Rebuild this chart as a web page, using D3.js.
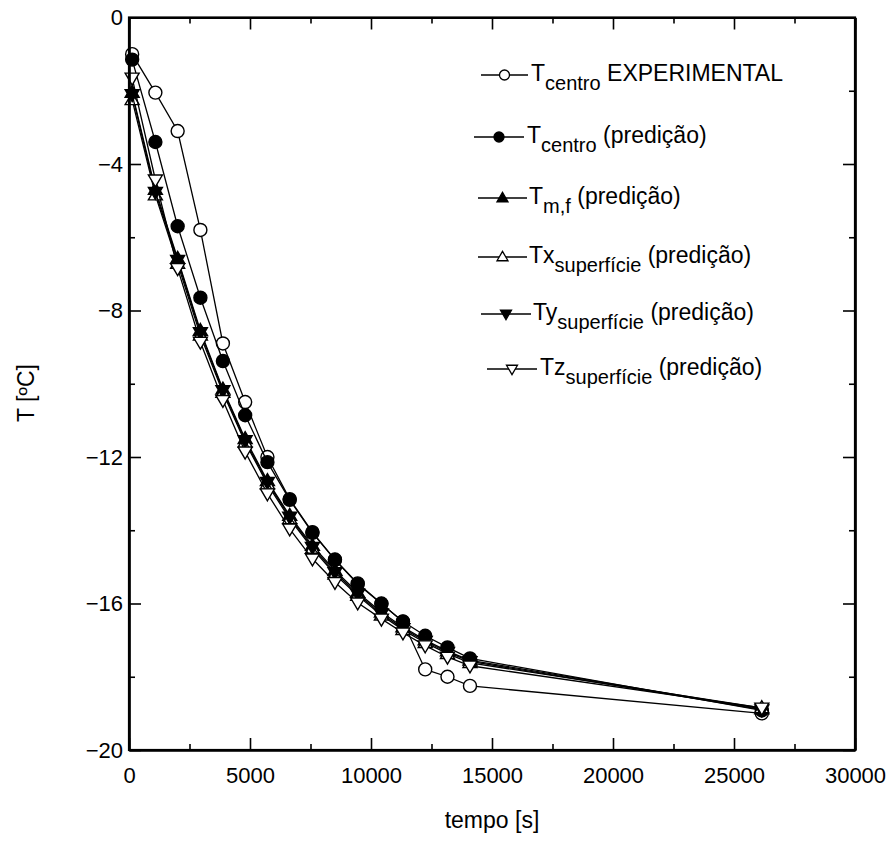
<!DOCTYPE html>
<html>
<head>
<meta charset="utf-8">
<title>T centro / superfície vs tempo</title>
<script src="https://cdn.jsdelivr.net/npm/d3@7"></script>
<style>
  body { margin: 0; background: #fff; }
  svg text { font-family: Arial, "Liberation Sans", sans-serif; fill: #000; }
</style>
</head>
<body>
<script>
// data
var tempo = [130, 1090, 2010, 2950, 3880, 4800, 5720, 6640, 7580, 8510, 9450, 10430, 11320, 12240, 13160, 14090, 26150];
var tCentroExp  = [-1.0, -2.05, -3.1, -5.8, -8.9, -10.5, -12.0, -13.15, -14.05, -14.8, -15.45, -16.0, -16.5, -17.8, -18.0, -18.25, -19.0];
var tCentroPred = [-1.15, -3.4, -5.7, -7.65, -9.38, -10.86, -12.14, -13.17, -14.07, -14.81, -15.47, -16.01, -16.49, -16.88, -17.2, -17.5, -18.92];
var tMF         = [-2.05, -4.7, -6.58, -8.55, -10.15, -11.5, -12.65, -13.6, -14.42, -15.1, -15.7, -16.24, -16.64, -17.0, -17.3, -17.55, -18.88];
var txSup       = [-2.25, -4.85, -6.72, -8.68, -10.24, -11.6, -12.74, -13.69, -14.5, -15.2, -15.78, -16.32, -16.72, -17.07, -17.37, -17.62, -18.85];
var tySup       = [-2.1, -4.77, -6.63, -8.6, -10.18, -11.55, -12.69, -13.64, -14.46, -15.15, -15.74, -16.28, -16.68, -17.03, -17.33, -17.58, -18.9];
var tzSup       = [-1.65, -4.43, -6.85, -8.86, -10.45, -11.86, -13.0, -13.96, -14.78, -15.42, -15.98, -16.42, -16.8, -17.15, -17.46, -17.7, -18.85];

var xTicks = [0, 5000, 10000, 15000, 20000, 25000, 30000];
var xMinor = [2500, 7500, 12500, 17500, 22500, 27500];
var yTicks = [0, -4, -8, -12, -16, -20];
var yMinor = [-2, -6, -10, -14, -18];

var series = [
  {name: "exp",  values: tCentroExp,  sym: "circle", fill: "#fff", main: "T", sub: "centro", rest: " EXPERIMENTAL"},
  {name: "pred", values: tCentroPred, sym: "circle", fill: "#000", main: "T", sub: "centro", rest: " (predição)"},
  {name: "mf",   values: tMF,         sym: "up",     fill: "#000", main: "T", sub: "m,f", rest: " (predição)"},
  {name: "tx",   values: txSup,       sym: "up",     fill: "#fff", main: "Tx", sub: "superfície", rest: " (predição)"},
  {name: "ty",   values: tySup,       sym: "down",   fill: "#000", main: "Ty", sub: "superfície", rest: " (predição)"},
  {name: "tz",   values: tzSup,       sym: "down",   fill: "#fff", main: "Tz", sub: "superfície", rest: " (predição)"}
];

// legend layout (one entry per row)
var legY  = [75, 137, 198, 257, 314, 369];
var legX1 = [481, 474, 478, 478, 481, 487];
var legX2 = [528, 524, 527, 527, 531, 537];
var legTx = [531, 527, 529, 529, 533, 540];

var W = 893, H = 860;
var margin = {top: 17.5, right: 38, bottom: 110, left: 129};
var width = 855 - margin.left;
var height = 750 - margin.top;

var x = d3.scaleLinear().domain([0, 30000]).range([0, width]);
var y = d3.scaleLinear().domain([-20, 0]).range([height, 0]);

var svg = d3.select("body").append("svg")
  .attr("width", W).attr("height", H)
  .append("g")
  .attr("transform", "translate(" + margin.left + "," + margin.top + ")");

// marker path centred on 0,0
function marker(sym, s) {
  if (sym === "circle") {
    return d3.symbol().type(d3.symbolCircle).size(Math.PI * s * s / 4)();
  }
  var w = s / 2, h = s * 0.85;
  if (sym === "up") return "M0," + (-h * 0.6) + "L" + w + "," + (h * 0.4) + "L" + (-w) + "," + (h * 0.4) + "Z";
  return "M0," + (h * 0.6) + "L" + w + "," + (-h * 0.4) + "L" + (-w) + "," + (-h * 0.4) + "Z";
}

var line = d3.line()
  .x(function(d, i) { return x(tempo[i]); })
  .y(function(d) { return y(d); });

// series: line then markers, in drawing order
series.forEach(function(s) {
  var g = svg.append("g").attr("class", "series-" + s.name);
  g.append("path")
    .datum(s.values)
    .attr("d", line)
    .attr("fill", "none")
    .attr("stroke", "#000")
    .attr("stroke-width", 1.3);
  g.selectAll("path.m")
    .data(s.values)
    .enter().append("path")
    .attr("class", "m")
    .attr("d", marker(s.sym, s.sym === "circle" ? 13 : 14))
    .attr("transform", function(d, i) { return "translate(" + x(tempo[i]) + "," + y(d) + ")"; })
    .attr("fill", s.fill)
    .attr("stroke", "#000")
    .attr("stroke-width", 1.4);
});

// axes, ticks inward on all four sides
function styleAxis(g) {
  g.selectAll(".domain").attr("stroke-width", 2.2);
  g.selectAll(".tick line").attr("stroke-width", 1.6);
  g.selectAll(".tick text").style("font-size", "22px").attr("fill", "#000");
}

svg.append("g").attr("transform", "translate(0," + height + ")")
  .call(d3.axisBottom(x).tickValues(xTicks).tickSize(-12).tickPadding(17).tickFormat(d3.format("d")).tickSizeOuter(0))
  .call(styleAxis);
svg.append("g").attr("transform", "translate(0," + height + ")")
  .call(d3.axisBottom(x).tickValues(xMinor).tickSize(-6).tickFormat("").tickSizeOuter(0))
  .call(styleAxis);
svg.append("g")
  .call(d3.axisTop(x).tickValues(xTicks).tickSize(-12).tickFormat("").tickSizeOuter(0))
  .call(styleAxis);
svg.append("g")
  .call(d3.axisTop(x).tickValues(xMinor).tickSize(-6).tickFormat("").tickSizeOuter(0))
  .call(styleAxis);

svg.append("g")
  .call(d3.axisLeft(y).tickValues(yTicks).tickSize(-12).tickPadding(6).tickFormat(d3.format("d")).tickSizeOuter(0))
  .call(styleAxis);
svg.append("g")
  .call(d3.axisLeft(y).tickValues(yMinor).tickSize(-6).tickFormat("").tickSizeOuter(0))
  .call(styleAxis);
svg.append("g").attr("transform", "translate(" + width + ",0)")
  .call(d3.axisRight(y).tickValues(yTicks).tickSize(-12).tickFormat("").tickSizeOuter(0))
  .call(styleAxis);
svg.append("g").attr("transform", "translate(" + width + ",0)")
  .call(d3.axisRight(y).tickValues(yMinor).tickSize(-6).tickFormat("").tickSizeOuter(0))
  .call(styleAxis);

// close the frame
svg.append("rect")
  .attr("width", width).attr("height", height)
  .attr("fill", "none").attr("stroke", "#000").attr("stroke-width", 2.2);

// axis titles
svg.append("text")
  .attr("transform", "translate(" + (26 - margin.left) + "," + (393 - margin.top) + ") rotate(-90)")
  .attr("text-anchor", "middle")
  .attr("dy", "0.35em")
  .style("font-size", "23px")
  .text("T [ºC]");

svg.append("text")
  .attr("x", 492 - margin.left)
  .attr("y", 828 - margin.top)
  .attr("text-anchor", "middle")
  .style("font-size", "23px")
  .text("tempo [s]");

// legend
var leg = d3.select("svg").append("g").attr("id", "legend");
series.forEach(function(s, i) {
  var ly = legY[i];
  leg.append("line")
    .attr("x1", legX1[i]).attr("x2", legX2[i])
    .attr("y1", ly).attr("y2", ly)
    .attr("stroke", "#000").attr("stroke-width", 1.4);
  leg.append("path")
    .attr("d", marker(s.sym, s.sym === "circle" ? 10 : 11))
    .attr("transform", "translate(" + ((legX1[i] + legX2[i]) / 2) + "," + ly + ")")
    .attr("fill", s.fill).attr("stroke", "#000").attr("stroke-width", 1.3);
  var t = leg.append("text")
    .attr("x", legTx[i])
    .attr("y", ly + 6)
    .style("font-size", "23px");
  t.append("tspan").text(s.main);
  t.append("tspan").attr("dy", 8.5).style("font-size", "20px").text(s.sub);
  t.append("tspan").attr("dy", -8.5).text(s.rest);
});
</script>
</body>
</html>
